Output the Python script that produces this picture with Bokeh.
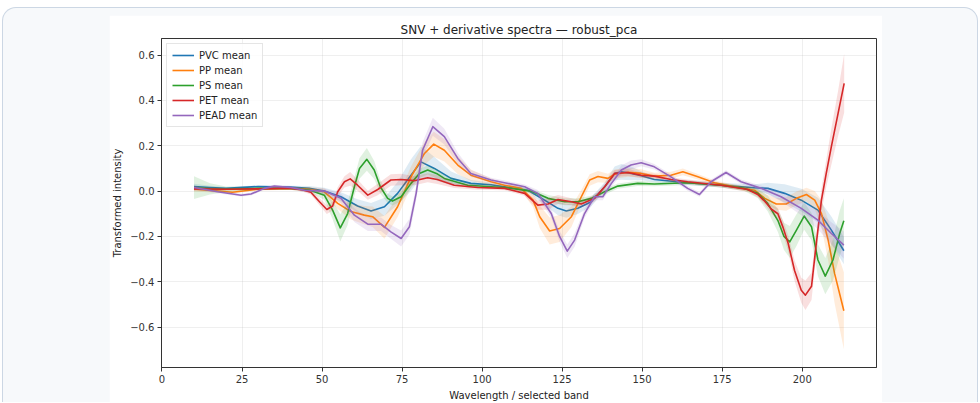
from bokeh.plotting import figure
from bokeh.layouts import column
from bokeh.models import Range1d, FixedTicker, Legend, LegendItem, ColumnDataSource, CustomJSTickFormatter
from bokeh.embed import file_html
from bokeh.resources import INLINE

# ---------------- data ----------------
series_names = ["PVC mean", "PP mean", "PS mean", "PET mean", "PEAD mean"]
series_colors = ["#1f77b4", "#ff7f0e", "#2ca02c", "#d62728", "#9467bd"]

pvc_x = [10, 15, 20, 30, 40, 46, 50.7, 55.9, 61.1, 65.3, 69.5, 73.6, 77.8, 80.9, 85.1, 90.3, 96.5, 102.8, 107, 114.3,
         119.5, 123.7, 126.3, 129.9, 134.1, 138.3, 141.4, 143.5, 146.6, 149.7, 153.8, 164.2, 174.7, 185.1, 189.3, 194.5,
         199.7, 204.9, 209.1, 213]
pvc_y = [0.02, 0.016, 0.012, 0.02, 0.018, 0.012, 0.0, -0.025, -0.066, -0.088, -0.069, -0.01, 0.07, 0.129, 0.1, 0.056,
         0.034, 0.028, 0.019, 0.004, -0.04, -0.076, -0.088, -0.076, -0.047, 0.019, 0.078, 0.085, 0.078, 0.068, 0.051,
         0.037, 0.026, 0.015, 0.012, -0.01, -0.04, -0.084, -0.172, -0.263]
pvc_sd = [0.012, 0.008, 0.006, 0.005, 0.006, 0.01, 0.015, 0.02, 0.03, 0.035, 0.04, 0.05, 0.07, 0.07, 0.05, 0.03, 0.015,
          0.01, 0.01, 0.01, 0.02, 0.03, 0.03, 0.025, 0.02, 0.02, 0.03, 0.035, 0.03, 0.02, 0.012, 0.01, 0.01, 0.015, 0.025,
          0.04, 0.05, 0.055, 0.06, 0.06]

pp_x = [10, 16, 22, 30, 40, 46, 50.7, 54.9, 59, 63.2, 65.8, 69.5, 73.6, 77.8, 82, 84.9, 88.2, 92.4, 96.5, 102.8, 107,
        112.2, 115.9, 118, 121.1, 124.2, 127.9, 131, 133.6, 136.2, 139.3, 141.4, 145.6, 149.7, 153.8, 159, 162.7, 167.4,
        172.6, 178.8, 185.1, 188.3, 191.9, 195, 198.2, 201.3, 203.9, 206, 208.1, 210.1, 213]
pp_y = [0.01, 0.002, -0.005, 0.008, 0.012, 0.008, -0.003, -0.054, -0.09, -0.106, -0.113, -0.16, -0.069, 0.063, 0.166,
        0.207, 0.18, 0.115, 0.07, 0.041, 0.026, 0.012, -0.04, -0.113, -0.176, -0.165, -0.113, -0.025, 0.049, 0.064,
        0.056, 0.075, 0.083, 0.078, 0.066, 0.07, 0.085, 0.063, 0.037, 0.019, 0.004, -0.032, -0.057, -0.057, -0.032,
        -0.015, -0.04, -0.099, -0.216, -0.363, -0.528]
pp_sd = [0.012, 0.008, 0.006, 0.005, 0.006, 0.01, 0.015, 0.025, 0.035, 0.04, 0.045, 0.05, 0.045, 0.045, 0.05, 0.055,
         0.05, 0.04, 0.025, 0.015, 0.01, 0.012, 0.03, 0.05, 0.06, 0.06, 0.045, 0.03, 0.025, 0.025, 0.02, 0.02, 0.02,
         0.018, 0.015, 0.015, 0.015, 0.012, 0.01, 0.01, 0.012, 0.02, 0.025, 0.03, 0.03, 0.03, 0.04, 0.06, 0.09, 0.13, 0.17]

ps_x = [10, 15, 20, 30, 40, 46, 50.7, 53.3, 55.7, 58, 60.1, 61.7, 64, 66.3, 68.2, 70.5, 72, 74.7, 77.8, 80.4, 83, 86.1,
        88.2, 95.5, 102.8, 107, 115.3, 120.6, 125.8, 129.9, 134.1, 138.3, 142.4, 148.6, 153.8, 164.2, 174.7, 181.9,
        186.1, 189.2, 192.4, 194.3, 196.1, 198.2, 200.6, 202.9, 204.9, 207.2, 209.6, 211.7, 213]
ps_y = [0.015, 0.01, 0.008, 0.012, 0.012, 0.005, -0.018, -0.084, -0.162, -0.099, 0.019, 0.1, 0.14, 0.093, 0.019, -0.032,
        -0.044, -0.025, 0.034, 0.078, 0.093, 0.075, 0.056, 0.026, 0.019, 0.016, 0.0, -0.032, -0.047, -0.047, -0.032,
        -0.003, 0.022, 0.034, 0.031, 0.037, 0.026, 0.012, -0.01, -0.054, -0.13, -0.2, -0.224, -0.172, -0.11, -0.157,
        -0.304, -0.375, -0.304, -0.187, -0.131]
ps_sd = [0.05, 0.025, 0.012, 0.006, 0.006, 0.01, 0.02, 0.04, 0.06, 0.05, 0.04, 0.045, 0.05, 0.04, 0.03, 0.02, 0.02, 0.02,
         0.02, 0.02, 0.02, 0.02, 0.015, 0.01, 0.008, 0.008, 0.01, 0.015, 0.015, 0.015, 0.012, 0.012, 0.012, 0.012, 0.01,
         0.01, 0.01, 0.012, 0.02, 0.035, 0.05, 0.06, 0.07, 0.07, 0.06, 0.06, 0.07, 0.08, 0.09, 0.1, 0.1]

pet_x = [10, 20, 30, 40, 44, 46.5, 49.2, 51.5, 53.3, 54.9, 57, 58.8, 61.1, 64.3, 67.4, 71.5, 74.7, 78.8, 83, 86, 91.3,
         98.6, 107, 113.3, 117.4, 120.6, 123.7, 127.9, 131, 135.1, 138.3, 141.4, 145.6, 149.7, 153.8, 159, 164.2, 174.7,
         183, 186.1, 188.3, 190.4, 192.4, 194, 195.6, 197.6, 199.7, 201, 202.9, 204.4, 206, 207.5, 209.1, 211.2, 213.1]
pet_y = [0.01, 0.008, 0.01, 0.013, 0.005, -0.005, -0.047, -0.081, -0.066, -0.003, 0.041, 0.054, 0.026, -0.018, 0.007,
         0.049, 0.051, 0.046, 0.059, 0.051, 0.026, 0.016, 0.012, -0.01, -0.062, -0.057, -0.037, -0.047, -0.057, -0.032,
         0.019, 0.078, 0.082, 0.07, 0.066, 0.051, 0.041, 0.026, 0.007, -0.015, -0.045, -0.08, -0.1, -0.16, -0.23, -0.35,
         -0.437, -0.459, -0.42, -0.23, -0.04, 0.078, 0.196, 0.343, 0.475]
pet_sd = [0.01, 0.006, 0.005, 0.006, 0.008, 0.01, 0.015, 0.02, 0.02, 0.02, 0.025, 0.03, 0.025, 0.02, 0.025, 0.025, 0.025,
          0.02, 0.02, 0.02, 0.012, 0.01, 0.008, 0.01, 0.02, 0.025, 0.02, 0.015, 0.015, 0.015, 0.015, 0.015, 0.015, 0.012,
          0.01, 0.01, 0.01, 0.01, 0.01, 0.012, 0.015, 0.02, 0.025, 0.03, 0.035, 0.045, 0.055, 0.065, 0.06, 0.05, 0.05,
          0.06, 0.08, 0.1, 0.13]

pead_x = [10, 17.4, 24.7, 27.8, 32, 35.1, 40.3, 44.5, 50.7, 55.9, 60.1, 64.3, 68.4, 71.5, 74.7, 77.3, 79.4, 81.4, 84.6,
          88.2, 92.4, 96.5, 102.8, 107, 113.3, 117.4, 121.6, 124.2, 126.6, 128.9, 132, 135.1, 137.7, 140.4, 143.5, 146.5,
          149.7, 153.8, 159, 164.2, 167.9, 171.5, 176.2, 180.9, 187.2, 193.4, 199.7, 204.9, 209.1, 213]
pead_y = [0.016, -0.003, -0.018, -0.013, 0.012, 0.022, 0.016, 0.004, 0.0, -0.032, -0.106, -0.146, -0.146, -0.18, -0.209,
          -0.157, -0.01, 0.18, 0.284, 0.24, 0.144, 0.078, 0.049, 0.037, 0.019, -0.01, -0.099, -0.2, -0.265, -0.216,
          -0.099, -0.025, -0.025, 0.034, 0.093, 0.115, 0.125, 0.107, 0.063, 0.012, -0.015, 0.041, 0.082, 0.041, 0.012,
          -0.025, -0.076, -0.128, -0.187, -0.238]
pead_sd = [0.008, 0.006, 0.006, 0.006, 0.006, 0.006, 0.006, 0.008, 0.012, 0.02, 0.03, 0.03, 0.03, 0.03, 0.035, 0.035,
           0.03, 0.035, 0.04, 0.035, 0.025, 0.015, 0.01, 0.01, 0.01, 0.015, 0.02, 0.025, 0.03, 0.03, 0.02, 0.015, 0.015,
           0.015, 0.02, 0.02, 0.015, 0.012, 0.01, 0.01, 0.01, 0.01, 0.01, 0.01, 0.012, 0.02, 0.03, 0.04, 0.05, 0.06]

x_ticks = [0, 25, 50, 75, 100, 125, 150, 175, 200]
y_ticks = [-0.6, -0.4, -0.2, 0.0, 0.2, 0.4, 0.6]

all_series = [(pvc_x, pvc_y, pvc_sd), (pp_x, pp_y, pp_sd), (ps_x, ps_y, ps_sd),
              (pet_x, pet_y, pet_sd), (pead_x, pead_y, pead_sd)]

# ---------------- figure ----------------
FONT = "DejaVu Sans"
p = figure(width=773, height=388, output_backend="svg", toolbar_location=None,
           x_range=Range1d(-0.15, 223.2), y_range=Range1d(-0.778, 0.673),
           min_border_left=52, min_border_right=6, min_border_top=23, min_border_bottom=36,
           title="SNV + derivative spectra \u2014 robust_pca")
p.margin = (7, 0, 0, 106)
p.background_fill_color = "white"
p.border_fill_color = "white"
p.outline_line_color = "#333333"
p.outline_line_width = 1

p.title.align = "center"
p.title.text_font = FONT
p.title.text_font_size = "12px"
p.title.text_font_style = "normal"
p.title.text_color = "#222222"
p.title.standoff = 4

p.xaxis.ticker = FixedTicker(ticks=x_ticks)
p.yaxis.ticker = FixedTicker(ticks=y_ticks)
p.yaxis.formatter = CustomJSTickFormatter(code="return tick.toFixed(1).replace('-', '\u2212');")
for ax in (p.xaxis, p.yaxis):
    ax.axis_line_color = "#333333"
    ax.major_tick_line_color = "#333333"
    ax.major_tick_out = 4
    ax.major_tick_in = 0
    ax.minor_tick_line_color = None
    ax.major_label_text_font = FONT
    ax.major_label_text_font_size = "10px"
    ax.major_label_text_color = "#333333"
    ax.major_label_standoff = 3
    ax.axis_label_text_font = FONT
    ax.axis_label_text_font_size = "10px"
    ax.axis_label_text_font_style = "normal"
    ax.axis_label_text_color = "#222222"
    ax.axis_label_standoff = 4
p.xaxis.axis_label = "Wavelength / selected band"
p.yaxis.axis_label = "Transformed intensity"

p.grid.grid_line_color = "#b0b0b0"
p.grid.grid_line_alpha = 0.25
p.grid.grid_line_width = 0.8

items = []
for (xs, ys, sds), name, col in zip(all_series, series_names, series_colors):
    lo = [y - s for y, s in zip(ys, sds)]
    hi = [y + s for y, s in zip(ys, sds)]
    src = ColumnDataSource(dict(x=xs, y=ys, lo=lo, hi=hi))
    p.varea(x="x", y1="lo", y2="hi", source=src, fill_color=col, fill_alpha=0.15)
    r = p.line(x="x", y="y", source=src, line_color=col, line_width=1.6, line_join="round")
    items.append(LegendItem(label=name, renderers=[r]))

legend = Legend(items=items, location="top_left")
legend.label_text_font = FONT
legend.label_text_font_size = "10px"
legend.label_text_color = "#222222"
legend.glyph_width = 22
legend.glyph_height = 12
legend.label_height = 12
legend.spacing = 3
legend.padding = 5
legend.margin = 5
legend.border_line_color = "#cccccc"
legend.background_fill_alpha = 0.8
p.add_layout(legend)

card = column(p, width=976, height=395, sizing_mode="fixed",
              styles={"background-color": "#f7f9fb", "border": "1px solid #ccd7e4",
                      "border-bottom": "none", "border-radius": "14px 14px 0 0"})
card.margin = (7, 0, 0, 2)

open("out.html", "w").write(file_html(card, INLINE))
